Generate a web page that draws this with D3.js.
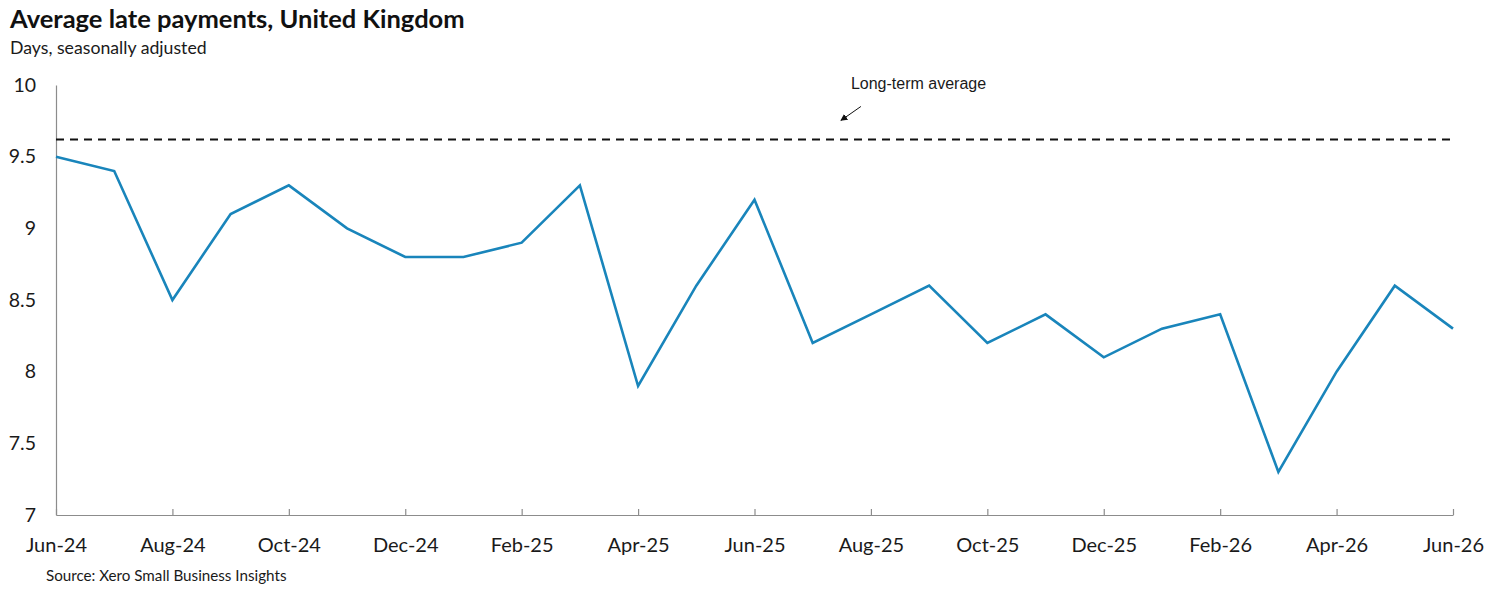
<!DOCTYPE html>
<html>
<head>
<meta charset="utf-8">
<script src="https://cdn.jsdelivr.net/npm/d3@7"></script>
<style>
  body { margin: 0; background: #fff; }
  svg { display: block; }
</style>
</head>
<body>
<div id="chart"></div>
<script>
'use strict';

// monthly observations, Jun-24 .. Jun-26
const months = ['Jun-24', 'Jul-24', 'Aug-24', 'Sep-24', 'Oct-24', 'Nov-24', 'Dec-24',
    'Jan-25', 'Feb-25', 'Mar-25', 'Apr-25', 'May-25', 'Jun-25', 'Jul-25', 'Aug-25',
    'Sep-25', 'Oct-25', 'Nov-25', 'Dec-25', 'Jan-26', 'Feb-26', 'Mar-26', 'Apr-26',
    'May-26', 'Jun-26'];
const lateDays = [9.5, 9.4, 8.5, 9.1, 9.3, 9.0, 8.8,
    8.8, 8.9, 9.3, 7.9, 8.6, 9.2, 8.2, 8.4,
    8.6, 8.2, 8.4, 8.1, 8.3, 8.4, 7.3, 8.0,
    8.6, 8.3];
const longTermAverage = 9.62;
const yTicks = [7, 7.5, 8, 8.5, 9, 9.5, 10];
const xTickLabels = ['Jun-24', 'Aug-24', 'Oct-24', 'Dec-24', 'Feb-25', 'Apr-25', 'Jun-25',
    'Aug-25', 'Oct-25', 'Dec-25', 'Feb-26', 'Apr-26', 'Jun-26'];

const width = 1500;
const height = 596;
const margin = { top: 85, right: 47, bottom: 81, left: 56 };
const chartWidth = width - margin.left - margin.right;
const chartHeight = height - margin.top - margin.bottom;

const series = months.map(function (m, i) {
    return { month: m, value: lateDays[i] };
});

const svg = d3.select('#chart')
    .append('svg')
    .attr('width', width)
    .attr('height', height);

const chart = svg.append('g')
    .attr('transform', `translate(${margin.left},${margin.top})`);

// scales - category axis, one equal step per month
const xScale = d3.scalePoint()
    .domain(months)
    .range([0, chartWidth]);

const yScale = d3.scaleLinear()
    .domain([7, 10])
    .range([chartHeight, 0]);

// axes
const xAxis = d3.axisBottom(xScale)
    .tickValues(xTickLabels)
    .tickSize(-6)
    .tickPadding(23)
    .tickSizeOuter(0);

const xAxisG = chart.append('g')
    .attr('transform', `translate(0,${chartHeight})`)
    .call(xAxis);

xAxisG.select('.domain').attr('stroke', '#8c8c8c').attr('stroke-width', 1.2);
xAxisG.selectAll('.tick line').attr('stroke', '#8c8c8c').attr('stroke-width', 1.2);
xAxisG.selectAll('.tick text')
    .attr('font-family', 'Lato, sans-serif')
    .attr('font-size', 20)
    .attr('fill', '#1a1a1a');

const yAxis = d3.axisLeft(yScale)
    .tickValues(yTicks)
    .tickFormat(d3.format('~g'))
    .tickSize(0)
    .tickPadding(20);

const yAxisG = chart.append('g').call(yAxis);
yAxisG.select('.domain').attr('stroke', '#8c8c8c').attr('stroke-width', 1.2);
yAxisG.selectAll('.tick text')
    .attr('font-family', 'Lato, sans-serif')
    .attr('font-size', 19.5)
    .attr('fill', '#1a1a1a');

// long-term average reference line
chart.append('line')
    .attr('x1', 0)
    .attr('x2', chartWidth)
    .attr('y1', yScale(longTermAverage))
    .attr('y2', yScale(longTermAverage))
    .attr('stroke', '#111')
    .attr('stroke-width', 2)
    .attr('stroke-dasharray', '8,6');

// main series
const lineGen = d3.line()
    .x(function (d) { return xScale(d.month); })
    .y(function (d) { return yScale(d.value); });

chart.append('path')
    .datum(series)
    .attr('fill', 'none')
    .attr('stroke', '#1985bb')
    .attr('stroke-width', 2.6)
    .attr('stroke-linejoin', 'miter')
    .attr('d', lineGen);

// annotation
svg.append('defs').append('marker')
    .attr('id', 'arrow')
    .attr('viewBox', '0 0 10 10')
    .attr('refX', 9)
    .attr('refY', 5)
    .attr('markerWidth', 7)
    .attr('markerHeight', 7)
    .attr('orient', 'auto')
    .append('path')
    .attr('d', 'M0,0 L10,5 L0,10 z')
    .attr('fill', '#111');

const annX = xScale('Aug-25') - 30;
const annY = yScale(longTermAverage);

chart.append('line')
    .attr('x1', annX + 20)
    .attr('y1', annY - 33)
    .attr('x2', annX)
    .attr('y2', annY - 19)
    .attr('stroke', '#111')
    .attr('stroke-width', 1)
    .attr('marker-end', 'url(#arrow)');

chart.append('text')
    .attr('x', annX + 10)
    .attr('y', 4)
    .attr('font-family', '"Liberation Sans", Arial, sans-serif')
    .attr('font-size', 16)
    .attr('fill', '#1a1a1a')
    .text('Long-term average');

// titles
svg.append('text')
    .attr('x', 10)
    .attr('y', 28)
    .attr('font-family', 'Lato, sans-serif')
    .attr('font-size', 25.5)
    .attr('font-weight', 700)
    .attr('fill', '#111')
    .text('Average late payments, United Kingdom');

svg.append('text')
    .attr('x', 10)
    .attr('y', 54)
    .attr('font-family', 'Lato, sans-serif')
    .attr('font-size', 17.7)
    .attr('fill', '#1a1a1a')
    .text('Days, seasonally adjusted');

svg.append('text')
    .attr('x', 46)
    .attr('y', 581)
    .attr('font-family', 'Lato, sans-serif')
    .attr('font-size', 15.2)
    .attr('fill', '#1a1a1a')
    .text('Source: Xero Small Business Insights');
</script>
</body>
</html>
